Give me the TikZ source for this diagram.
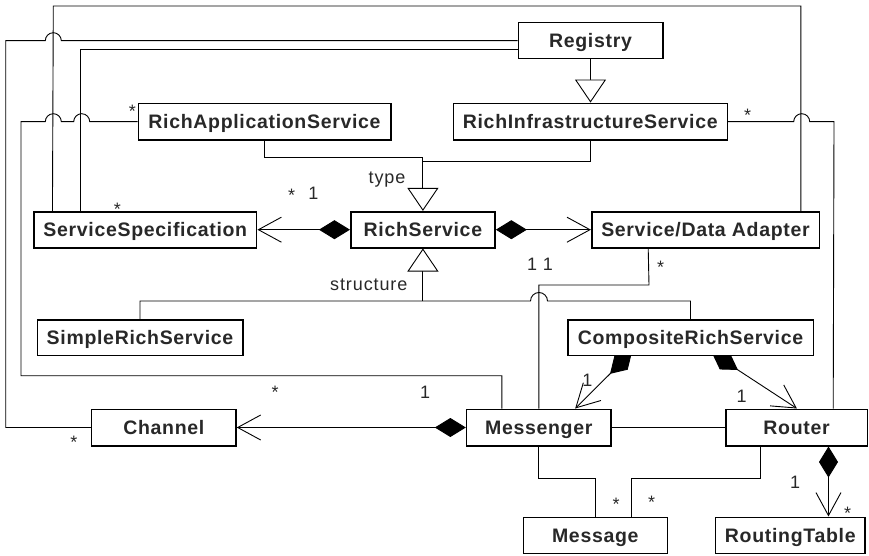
\documentclass[tikz,border=0pt]{standalone}
\usepackage{fontspec}
\setmainfont{Liberation Sans}
\newfontfamily\boxfont{Liberation Sans}[LetterSpace=3.5]
\newfontfamily\lblfont{Liberation Sans}[LetterSpace=5]
\usetikzlibrary{arrows.meta}
\pgfdeclarelayer{bg}
\pgfsetlayers{bg,main}
\definecolor{txt}{RGB}{40,40,40}
\tikzset{
 cls/.style={draw=black, line width=1.6pt, fill=white, inner sep=0pt,
   font=\boxfont\bfseries\fontsize{19.5}{20}\selectfont, text=txt,
   text height=14pt, text depth=0pt, anchor=center},
 lbl/.style={font=\lblfont\fontsize{18}{20}\selectfont, text=txt, inner sep=0pt, anchor=base},
 conn/.style={line width=0.9pt, draw=black},
 comp/.style={conn, {Diamond[length=31pt,width=19pt,fill=black]}-{Straight Barb[length=23pt,width=25pt]}},
 gen/.style={conn, -{Triangle[open,length=23pt,width=31pt,fill=white]}},
}
\begin{document}
\begin{tikzpicture}[x=1pt,y=-1pt]
\useasboundingbox (0,0) rectangle (869,556);
% classes
\node[cls, minimum width=144.4pt, minimum height=36pt]   (reg)  at (590.5,40.7)  {Registry};
\node[cls, minimum width=274pt,   minimum height=36.7pt] (ris)  at (590.3,121.7) {RichInfrastructureService};
\node[cls, minimum width=252.4pt, minimum height=36.7pt] (ras)  at (264.5,121.7) {RichApplicationService};
\node[cls, minimum width=144.3pt, minimum height=36pt]   (rs)   at (422.9,229.7) {RichService};
\node[cls, minimum width=222.7pt, minimum height=36pt]   (ss)   at (145.3,229.7) {ServiceSpecification};
\node[cls, minimum width=227.6pt, minimum height=36pt]   (sda)  at (705.5,229.7) {Service/Data Adapter};
\node[cls, minimum width=205.4pt, minimum height=35.7pt] (srs)  at (140,337.8)   {SimpleRichService};
\node[cls, minimum width=245.6pt, minimum height=35.7pt] (crs)  at (690.5,337.8) {CompositeRichService};
\node[cls, minimum width=144.3pt, minimum height=36.4pt] (ch)   at (163.8,427.5) {Channel};
\node[cls, minimum width=144.3pt, minimum height=36.4pt] (msg)  at (538.8,427.5) {Messenger};
\node[cls, minimum width=141.8pt, minimum height=36.4pt] (rtr)  at (796.6,427.5) {Router};
\node[cls, minimum width=144pt,   minimum height=36pt]   (mess) at (595.3,535.3) {Message};
\node[cls, minimum width=149.3pt, minimum height=36pt]   (rtab) at (790.3,535.3) {RoutingTable};
% helper coordinates
\coordinate (tj1) at (422.9,157.3);
\coordinate (tj2) at (422.9,161);
\coordinate (sj)  at (422.9,301);
\coordinate (c1)  at (632,352);
\coordinate (c2)  at (712,353);
\coordinate (mj1) at (595.5,478.3);
\coordinate (mj2) at (631,478.3);
\begin{pgfonlayer}{bg}
% generalizations
\draw[gen] (reg.south) -- (reg.south |- ris.north);
\draw[conn] (ras.south) |- (tj1) -- (tj2);
\draw[conn] (ris.south) |- (tj2);
\draw[gen] (tj2) -- (rs.north);
\draw[gen] (sj) -- (rs.south);
\draw[conn] (srs.north) -- (srs.north |- sj) -- (530.5,301)
   arc[start angle=180,end angle=0,radius=8.5pt] -- (crs.north |- sj) -- (crs.north);
% compositions
\draw[comp] (rs.west) -- (ss.east);
\draw[comp] (rs.east) -- (sda.west);
\draw[comp] (msg.west) -- (ch.east);
\draw[comp] ([xshift=103.6pt]rtr.south west) -- ([xshift=113.6pt]rtab.north west);
\draw[comp] (c1) -- ([xshift=109.3pt]msg.north west);
\draw[comp] (c2) -- ([xshift=72pt]rtr.north west);
% associations
\draw[conn] (msg.east) -- (rtr.west);
\draw[conn] (msg.south) |- (mj1) -- (mj1 |- mess.north);
\draw[conn] ([xshift=36pt]rtr.south west) |- (mj2) -- (mj2 |- mess.north);
\draw[conn] (ras.west) -- (89.7,121.7) arc[start angle=0,end angle=180,radius=8pt]
   -- (61.3,121.7) arc[start angle=0,end angle=180,radius=8pt]
   -- (21,121.7) -- (21,375.7) -| ([xshift=36pt]msg.north west);
\draw[conn] (ch.west) -- (5.7,427.5) -- (5.7,40.7) -- (45.3,40.7)
   arc[start angle=180,end angle=0,radius=8pt] -- (reg.west);
\draw[conn] ([xshift=47.7pt]ss.north west) |- ([yshift=-8.6pt]reg.west);
\draw[conn] ([xshift=19.3pt]ss.north west) -- (53.3,6) -| ([xshift=210pt]sda.north west);
\draw[conn] (ris.east) -- (793.7,121.7) arc[start angle=180,end angle=0,radius=8pt]
   -- (834,121.7) -- ([xshift=108.3pt]rtr.north west);
\draw[conn] ([xshift=57.3pt]sda.south west) -- (649,285) -| (msg.north);
\end{pgfonlayer}
% labels
\node[lbl] (l1)  at (132.3,118)   {*};
\node[lbl] (l2)  at (117.3,215.7) {*};
\node[lbl] (l3)  at (291.7,201.3) {*};
\node[lbl] (l4)  at (313.3,199)   {1};
\node[lbl] (l5)  at (747.7,121.3) {*};
\node[lbl] (l6)  at (387,183.3)   {type};
\node[lbl] (l7)  at (368.8,290)   {structure};
\node[lbl] (l8)  at (540,270.7)   {1 1};
\node[lbl] (l9)  at (660.7,273.7) {*};
\node[lbl] (l10) at (275,398)     {*};
\node[lbl] (l11) at (425,398.3)   {1};
\node[lbl] (l12) at (74,448)      {*};
\node[lbl] (l13) at (587.3,386)   {1};
\node[lbl] (l14) at (741.7,402.7) {1};
\node[lbl] (l15) at (616,510.7)   {*};
\node[lbl] (l16) at (651.7,508)   {*};
\node[lbl] (l17) at (795,488.3)   {1};
\node[lbl] (l18) at (847.7,519.7) {*};
\end{tikzpicture}
\end{document}
